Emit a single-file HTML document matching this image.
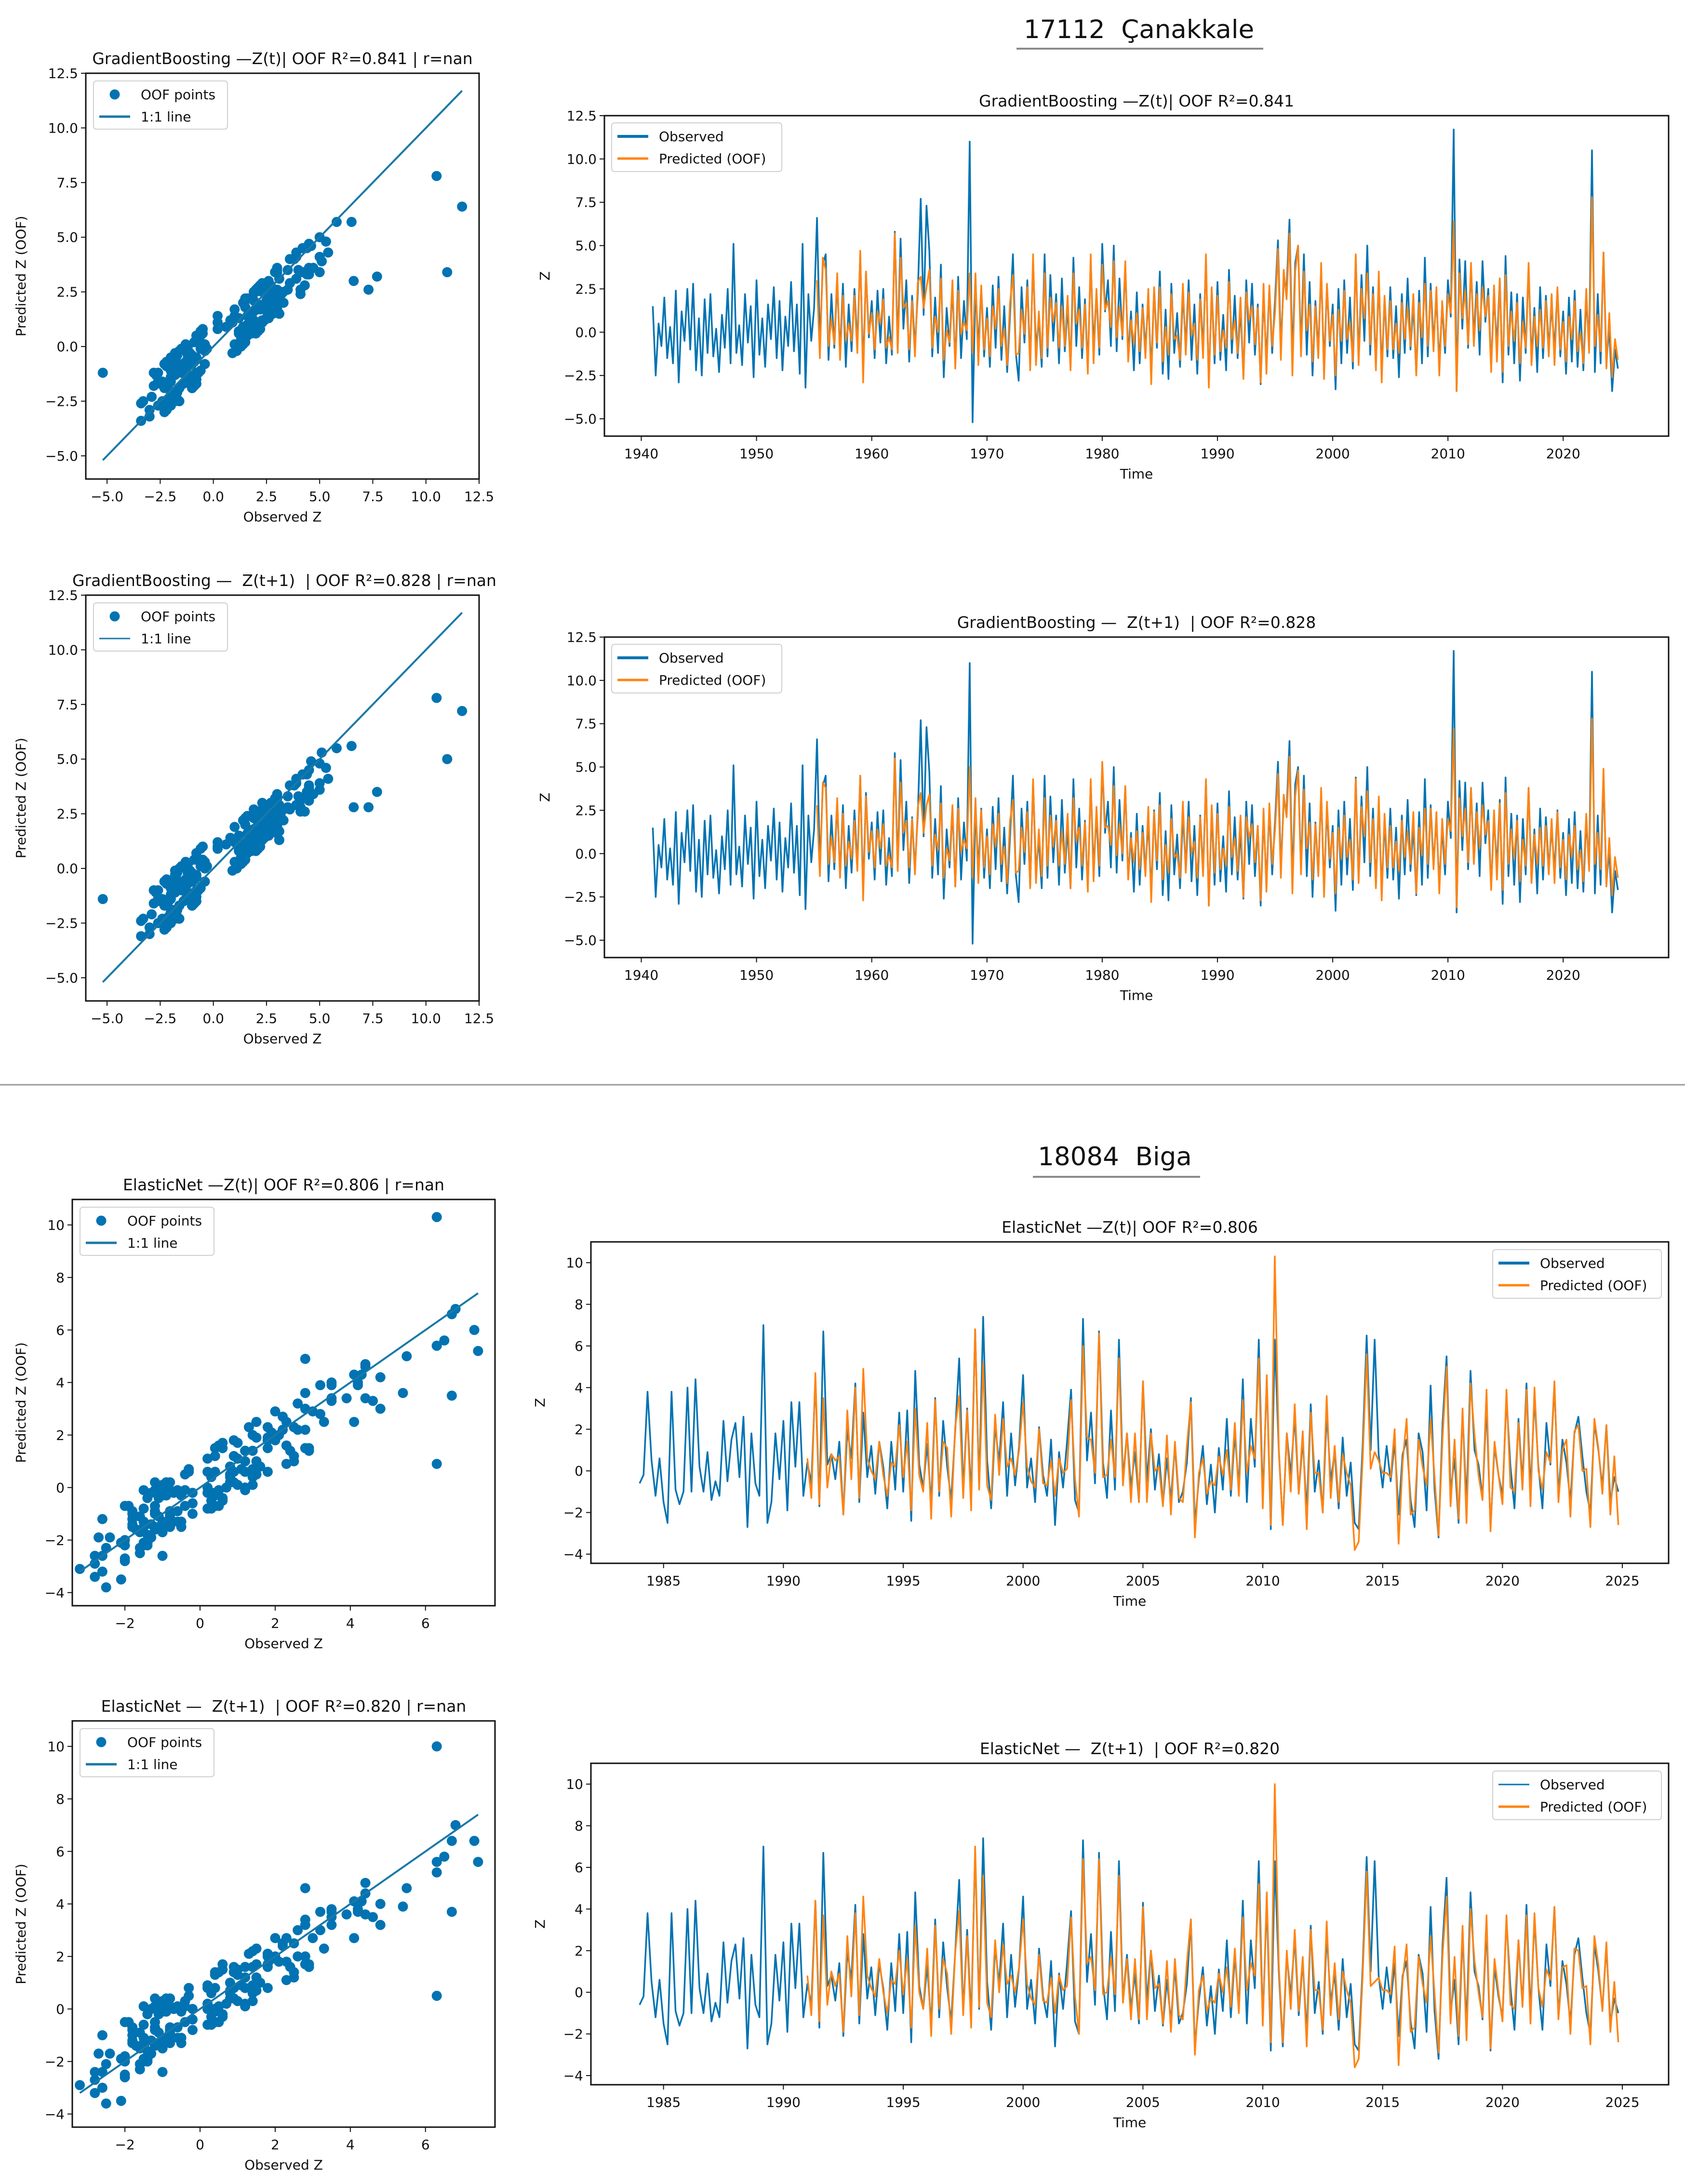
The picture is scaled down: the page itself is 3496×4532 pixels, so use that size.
<!DOCTYPE html>
<html><head><meta charset="utf-8"><title>OOF model diagnostics</title>
<style>
html,body{margin:0;padding:0;background:#fff;}
svg{display:block;}
text{font-family:"DejaVu Sans","Liberation Sans",sans-serif;fill:#111;white-space:pre;}
</style></head>
<body>
<svg id="fig" xmlns="http://www.w3.org/2000/svg" width="3496" height="4532" viewBox="0 0 3496 4532">
<rect x="0" y="0" width="3496" height="4532" fill="#fff"/>
<text x="2363" y="79" font-size="53" text-anchor="middle">17112  Çanakkale</text>
<line x1="2109" y1="101" x2="2621" y2="101" stroke="#8a8a8a" stroke-width="4"/>
<line x1="0" y1="2251" x2="3496" y2="2251" stroke="#9a9a9a" stroke-width="3"/>
<text x="2313" y="2418" font-size="53" text-anchor="middle">18084  Biga</text>
<line x1="2143" y1="2442" x2="2490" y2="2442" stroke="#8a8a8a" stroke-width="4"/>
</svg>
<script>
// ---------------- DATA ----------------
const canStart = 1941.0;
const canPerYear = 4;
const canPredOffset = 57; // first OOF prediction index (1955 Q2)
const canObserved = [
1.5,-2.5,0.5,-0.8, 2.0,-1.5,0.3,-1.8, 2.4,-2.9,1.2,-0.5, 2.5,-1.0,2.8,-2.2, 0.8,-2.5,1.9,-1.2,
2.2,-1.4,0.2,-2.3, 1.0,-0.9,2.5,-1.8, 5.1,-1.2,0.4,-1.9, 2.2,-0.6,1.5,-2.6, 3.0,-1.3,0.8,-2.0,
1.6,-0.4,2.6,-1.5, 1.8,-2.2,0.9,-0.8, 2.9,-1.1,1.6,-2.4, 5.1,-3.2,2.2,-0.5, 1.4,6.6,-0.8,3.9,
4.5,-1.6,2.2,-0.9, 3.0,-1.3,2.8,-2.0, 1.6,-1.1,2.5,-0.7, 4.5,-2.2,3.5,-0.3, 1.8,-1.5,2.4,-0.6,
2.5,-1.8,0.9,-1.3, 5.8,-0.8,5.4,0.2, 3.0,-1.7,2.1,-0.9, 2.3,7.7,1.0,7.3, 4.7,-1.4,2.0,-1.2,
3.9,-2.6,1.4,-0.8, 2.6,-1.9,3.2,-1.5, 1.8,-0.4,11.0,-5.2, 2.9,-1.0,2.6,-1.4, 1.4,-2.0,2.7,-0.9,
3.2,-1.6,1.5,-2.3, 1.0,4.5,-1.2,-2.8, 2.6,-0.6,3.0,-1.9, 4.2,-1.0,0.8,-2.0, 4.5,-1.4,3.3,-0.5,
2.2,-1.8,3.1,-1.1, 1.5,-2.0,4.3,-0.8, 2.6,-1.5,1.9,-2.1, 4.2,-0.9,2.3,-1.3, 5.1,1.2,3.0,-0.8,
5.0,-1.1,3.1,-0.4, 3.9,-1.4,1.2,-2.2, 2.3,-1.8,1.6,-1.0, 1.9,-2.3,2.5,-0.9, 3.5,-2.4,1.3,-2.7,
2.8,-1.2,1.1,-2.0, 2.3,-0.9,3.0,-1.6, 1.6,-2.4,2.2,-1.0, 4.2,-3.0,2.5,-1.8, 2.9,-1.6,1.0,-2.2,
3.6,-1.2,2.1,-1.5, 1.4,-2.6,3.0,-0.6, 2.8,-1.3,1.6,-3.0, 2.2,-1.7,2.6,-1.2, 1.9,5.3,-0.9,3.0,
2.5,6.5,-1.6,4.0, 5.0,-1.0,4.5,-1.3, 2.9,-2.5,1.8,-1.1, 3.6,-2.0,2.7,-0.8, 1.6,-3.3,2.5,-1.8,
3.0,-1.2,2.0,-2.1, 4.4,-1.6,3.3,-0.5, 5.0,-1.3,2.6,-1.9, 3.0,-2.2,1.9,-1.4, 2.6,-1.5,1.5,-2.6,
2.2,-1.2,3.1,-1.0, 1.6,-2.4,2.4,-1.8, 4.3,-1.4,2.8,-0.6, 2.0,-1.8,1.5,-1.2, 3.0,0.9,11.7,-3.4,
4.2,0.2,4.1,-0.9, 3.8,-0.4,2.9,-1.3, 4.1,0.6,2.5,-2.0, 2.1,-0.8,3.1,-2.9, 4.4,-1.3,2.3,-1.8,
2.2,-2.8,2.0,-1.2, 3.8,-1.6,1.4,-2.3, 2.6,-1.5,2.1,-0.9, 1.5,-1.0,2.5,-1.4, 1.2,-2.4,2.0,-1.7,
2.4,-2.0,1.3,-2.2, 2.0,-0.8,10.5,-2.3, 2.2,-1.8,4.6,-1.7, 0.2,-3.4,-1.0,-2.1];
const canPredT = [
3.0,-1.5,4.3, 3.6,-0.8,0.8,-0.7, 3.4,-1.6,2.1,-0.5, 0.5,-0.5,2.1,-1.2, 4.7,-2.9,3.5,-0.1, 1.1,-1.0,1.2,0.5,
1.9,-0.9,-0.3,-1.0, 5.7,-1.2,4.3,1.4, 1.7,-1.0,1.8,-1.4, 2.9,3.2,1.4,2.6, 3.6,-0.9,0.9,0.0,
3.1,-1.6,0.1,-0.6, 3.0,-2.1,2.4,-0.1, 0.6,0.1,3.4,-1.2, 3.4,-1.9,2.7,-1.0, 0.8,-1.4,1.5,0.2,
2.5,-0.8,0.2,-1.9, 1.7,3.3,-1.3,-1.2, 1.3,-0.1,2.6,-2.2, 4.5,-1.9,1.2,-1.5, 3.4,-0.9,2.0,0.6,
1.7,-0.9,1.5,-0.8, 2.1,-2.2,3.4,0.5, 1.3,-0.9,1.6,-2.4, 4.5,-1.8,2.5,-0.9, 3.9,1.3,1.8,0.3,
4.1,-0.3,1.5,-0.2, 4.1,-1.7,0.7,-0.7, 1.1,-1.1,1.4,-1.5, 2.5,-3.0,2.6,-0.6, 2.6,-1.7,0.3,-1.3,
2.2,-0.4,-0.2,-1.6, 2.8,-1.3,2.3,-0.2, 0.5,-1.6,1.9,-1.5, 4.5,-3.2,2.6,-1.3, 2.1,-1.1,0.1,-0.9,
2.9,-0.4,0.7,-1.2, 2.0,-2.7,2.3,0.7, 1.5,-0.7,1.4,-2.9, 2.8,-2.4,2.7,-0.8, 1.2,4.8,-1.6,3.6,
1.9,5.7,-2.5,3.5, 5.0,-1.4,3.5,0.1, 1.6,-1.7,1.5,-1.5, 4.0,-2.7,2.8,-0.5, 1.0,-2.5,1.3,-0.5,
2.4,-0.4,0.6,-1.7, 4.5,-1.9,2.5,0.8, 3.4,-0.7,2.2,-2.2, 3.5,-2.9,2.1,-1.0, 1.8,-1.0,0.5,-1.2,
1.7,-0.4,1.5,-0.8, 2.2,-2.5,1.7,-0.3, 2.8,-0.8,2.4,-1.1, 2.6,-2.5,1.8,-0.8, 2.2,1.1,6.4,-3.4,
3.4,0.8,2.4,-0.7, 4.0,-0.8,2.2,0.1, 2.6,0.9,2.1,-2.3, 2.7,-1.7,3.1,-2.3, 3.3,-0.8,1.2,-0.5,
1.7,-1.8,0.6,-0.9, 4.0,-1.9,0.9,-0.8, 1.3,-0.9,1.8,-1.4, 2.2,-1.9,2.6,-1.0, 0.6,-1.7,0.9,-0.4,
1.8,-1.1,0.0,-1.8, 2.5,-1.2,7.8,-0.8, 1.0,-1.1,4.6,-2.1, 1.1,-2.6,-0.4,-1.6];
const canPredT1 = [
2.8,-1.3,4.1, 3.8,-0.6,1.0,-0.5, 3.2,-1.4,2.3,-0.7, 0.7,-0.3,1.9,-1.0, 4.5,-2.7,3.3,0.1, 1.3,-0.8,1.4,0.3,
1.7,-0.7,-0.1,-0.8, 5.5,-1.0,4.1,1.2, 1.9,-0.8,2.0,-1.2, 2.7,3.5,1.2,2.8, 3.4,-0.7,1.1,0.2,
2.9,-1.4,0.3,-0.4, 2.8,-1.9,2.6,0.1, 0.8,0.3,5.0,-1.4, 3.2,-1.7,2.5,-0.8, 1.0,-1.2,1.7,0.4,
2.3,-0.6,0.4,-1.7, 1.9,3.1,-1.1,-1.0, 1.5,0.1,2.4,-2.0, 4.3,-1.7,1.4,-1.3, 3.2,-0.7,2.2,0.4,
1.9,-0.7,1.3,-0.6, 2.3,-2.0,3.2,0.7, 1.5,-0.7,1.8,-2.2, 4.3,-1.6,2.7,-0.7, 5.3,1.5,1.6,0.5,
3.9,-0.1,1.7,0.0, 3.9,-1.5,0.9,-0.5, 1.3,-0.9,1.2,-1.3, 2.7,-2.8,2.4,-0.4, 2.8,-1.5,0.5,-1.1,
2.0,-0.2,0.0,-1.4, 3.0,-1.1,2.1,0.0, 0.7,-1.4,2.1,-1.3, 4.3,-3.0,2.8,-1.1, 2.3,-0.9,0.3,-0.7,
2.7,-0.2,0.9,-1.0, 2.2,-2.5,2.1,0.9, 1.7,-0.5,1.6,-2.7, 2.6,-2.2,2.9,-0.6, 1.4,4.6,-1.4,3.4,
2.1,5.6,-2.3,3.3, 4.8,-1.2,3.7,0.3, 1.8,-1.5,1.7,-1.3, 3.8,-2.5,3.0,-0.3, 1.2,-2.3,1.5,-0.3,
2.2,-0.2,0.8,-1.5, 4.3,-1.7,2.7,1.0, 3.6,-0.5,2.0,-2.0, 3.3,-2.7,2.3,-0.8, 1.6,-0.8,0.7,-1.0,
1.9,-0.2,1.3,-0.6, 2.4,-2.3,1.5,-0.1, 2.6,-0.6,2.6,-0.9, 2.4,-2.3,2.0,-0.6, 2.0,1.3,7.2,-3.1,
3.2,1.0,2.6,-0.5, 3.8,-0.6,2.4,0.3, 2.8,1.1,1.9,-2.1, 2.5,-1.5,2.9,-2.1, 3.5,-0.6,1.4,-0.3,
1.9,-1.6,0.8,-0.7, 3.8,-1.7,1.1,-0.6, 1.5,-0.7,1.6,-1.2, 2.0,-1.7,2.4,-0.8, 0.8,-1.5,1.1,-0.2,
1.6,-0.9,0.2,-1.6, 2.3,-1.0,7.8,-0.6, 1.2,-0.9,4.9,-1.9, 0.9,-2.4,-0.2,-1.4];

const bigaStart = 1984.0;
const bigaPerYear = 6;
const bigaPredOffset = 42; // first OOF prediction index (1991.0)
const bigaObserved = [
-0.6,-0.2,3.8,0.5,-1.2,0.6, -1.5,-2.5,3.8,-0.9,-1.6,-1.0, 4.0,-1.0,4.4,0.2,-1.0,0.9, -1.4,-0.5,-1.2,2.4,-0.5,1.5,
2.3,-0.3,2.6,-2.7,1.8,-0.6, -1.2,7.0,-2.5,-1.5,1.8,-0.4, 2.4,-1.9,3.3,0.2,3.3,-1.2, 0.4,-0.6,4.4,-1.7,6.7,0.3,
0.8,-0.4,1.4,-2.1,2.0,0.6, 4.2,-1.5,2.8,-0.3,1.2,-1.1, 1.4,0.2,-1.8,1.4,-0.9,2.8, -1.0,2.9,-2.4,4.8,0.3,-0.8,
1.3,-1.6,3.5,-1.2,2.4,0.2, -1.4,1.9,5.4,-1.0,3.0,-1.3, 6.8,-0.8,7.4,0.5,-1.8,2.2, 0.4,3.3,-1.2,1.8,-0.7,1.2,
4.6,-0.8,0.6,-1.5,2.1,-0.2, -1.2,1.5,-2.6,0.9,-0.8,1.4, 3.9,-1.4,-2.0,7.3,0.5,2.8, -0.6,6.7,0.4,-1.3,2.9,-0.9,
6.3,-0.4,1.8,-0.8,0.9,-1.5, 4.3,-0.5,2.0,-0.9,0.8,-1.6, 0.6,-1.4,1.2,-1.5,-1.0,0.4, 3.5,-2.6,-0.4,1.2,-1.6,0.3,
-2.0,1.1,-0.9,2.5,-1.2,1.8, -0.8,4.4,-1.5,2.5,0.2,6.3, -1.4,4.4,-2.8,6.3,1.0,-2.6, 1.8,-0.2,2.6,-1.1,1.5,-2.0,
3.2,-1.0,0.5,-2.0,2.8,-0.5, 0.9,-1.8,1.6,-1.2,0.4,-2.5, -2.8,1.2,6.5,1.0,6.3,0.8, -0.8,1.2,-0.5,1.4,-2.1,0.8,
1.5,-1.4,-2.7,1.8,0.9,-1.9, 4.1,-0.9,-3.2,2.3,5.5,-1.0, 0.6,-2.5,2.8,-1.6,4.8,1.0, 0.3,-1.3,3.2,-2.8,1.2,-0.2,
-1.2,3.5,0.2,-1.8,2.5,-0.6, 4.2,-1.0,3.5,0.2,-1.8,2.3, 0.3,4.1,-1.2,1.5,0.4,-1.5, 1.8,2.6,0.7,-1.0,-2.0,2.3,
1.0,-0.8,2.2,-1.5,-0.3,-1.0];
const bigaPredT = [
0.6,-1.3,4.7,-1.6,3.5,-0.8, 0.8,0.5,0.7,-2.1,2.9,-0.4, 4.0,-1.3,4.9,0.6,0.0,-0.4, 1.4,-0.2,-1.2,0.4,0.2,2.2,
-0.3,1.4,-1.9,3.0,-0.2,-1.0, 2.3,-2.3,3.4,-1.0,1.4,1.1, -2.2,2.1,3.6,-1.3,2.9,-1.9, 6.8,-0.9,5.2,-0.7,-1.4,2.7,
-0.2,2.5,0.2,0.6,-0.2,1.0, 3.3,0.2,-0.5,-0.8,2.0,-0.6, -0.7,0.5,-1.2,0.6,-0.1,0.1, 3.4,-0.4,-2.2,6.0,1.6,1.5,
-0.1,6.6,-0.3,-0.2,1.5,-0.3, 5.4,-0.7,1.8,-1.5,1.8,-1.5, 4.3,-1.5,1.8,0.0,0.2,-1.7, 1.7,-2.1,1.4,-1.3,-1.5,1.2,
3.3,-3.2,-0.1,0.6,-1.1,-0.5, -0.7,0.7,-0.2,1.0,-0.9,2.3, -1.2,3.4,-0.1,1.2,0.6,5.4, -1.8,4.6,-2.6,10.3,1.1,-2.6,
1.8,-1.0,3.2,-1.1,1.9,-2.8, 2.8,-0.1,-0.1,-2.0,3.6,-1.3, 1.2,-1.5,0.8,-0.1,-0.7,-3.8, -3.4,0.6,5.6,0.1,0.9,0.5,
-0.1,-0.1,-0.3,2.0,-3.5,0.4, 2.5,-2.1,-1.9,1.5,0.2,-0.7, 2.5,-0.3,-3.1,1.6,5.0,-1.7, 1.5,-2.3,3.0,-2.5,4.2,1.7,
-0.2,-1.4,3.9,-2.9,1.4,-0.2, -1.6,3.9,-0.8,-1.0,2.3,-0.9, 3.9,-1.7,4.0,0.0,-0.9,0.9, 0.4,4.3,-1.5,1.0,1.5,-2.2,
1.9,2.2,0.0,0.1,-2.7,2.5, 1.1,-1.1,2.2,-2.1,0.7,-2.6];
const bigaPredT1 = [
0.8,-1.1,4.4,-1.4,3.7,-0.6, 1.0,0.3,0.9,-1.9,2.7,-0.2, 3.8,-1.1,4.6,0.8,0.2,-0.2, 1.6,0.0,-1.0,0.6,0.4,2.0,
-0.1,1.6,-1.7,3.2,0.0,-0.8, 2.1,-2.1,3.2,-0.8,1.6,0.9, -2.0,1.9,3.9,-1.1,2.7,-1.7, 7.0,-0.7,5.6,-0.5,-1.2,2.5,
0.0,2.3,0.4,0.8,0.0,1.2, 3.5,0.4,-0.3,-0.6,1.8,-0.4, -0.5,0.7,-1.0,0.8,0.1,0.3, 3.6,-0.2,-2.0,6.4,1.4,1.7,
0.1,6.4,-0.1,0.0,1.7,-0.1, 5.6,-0.5,1.6,-1.3,1.6,-1.3, 4.1,-1.3,2.0,0.2,0.4,-1.5, 1.5,-1.9,1.6,-1.1,-1.3,1.4,
3.5,-3.0,0.1,0.8,-0.9,-0.3, -0.5,0.9,0.0,1.2,-0.7,2.1, -1.0,3.6,0.1,1.4,0.8,5.2, -1.6,4.8,-2.4,10.0,1.3,-2.4,
2.0,-0.8,3.0,-0.9,1.7,-2.6, 3.0,0.1,0.1,-1.8,3.4,-1.1, 1.4,-1.3,1.0,0.1,-0.5,-3.6, -3.2,0.8,5.8,0.3,0.5,0.7,
0.1,0.1,-0.1,2.2,-3.5,0.6, 2.3,-1.9,-1.7,1.7,0.4,-0.5, 2.7,-0.1,-2.9,1.8,4.6,-1.5, 1.7,-2.1,3.2,-2.3,4.0,1.5,
0.0,-1.2,3.7,-2.7,1.6,0.0, -1.4,3.7,-0.6,-0.8,2.5,-0.7, 3.7,-1.5,3.8,0.2,-0.7,1.1, 0.6,4.1,-1.3,1.2,1.3,-2.0,
2.1,2.0,0.2,0.3,-2.5,2.7, 1.3,-0.9,2.4,-1.9,0.5,-2.4];

// tick arrays
const canScatterTicks = [-5, -2.5, 0, 2.5, 5, 7.5, 10, 12.5];
const canTsYTicks = [-5, -2.5, 0, 2.5, 5, 7.5, 10, 12.5];
const canYearTicks = [1940, 1950, 1960, 1970, 1980, 1990, 2000, 2010, 2020];
const bigaScatterXTicks = [-2, 0, 2, 4, 6];
const bigaScatterYTicks = [-4, -2, 0, 2, 4, 6, 8, 10];
const bigaTsYTicks = [-4, -2, 0, 2, 4, 6, 8, 10];
const bigaYearTicks = [1985, 1990, 1995, 2000, 2005, 2010, 2015, 2020, 2025];

// ---------------- RENDERING ----------------
const NS = 'http://www.w3.org/2000/svg';
const svg = document.getElementById('fig');
const BLUE = '#0173b2', ORANGE = '#ff8413';
function mk(tag, attrs, parent) {
  const e = document.createElementNS(NS, tag);
  for (const k in attrs) e.setAttribute(k, attrs[k]);
  (parent || svg).appendChild(e);
  return e;
}
function fmt(v, dec) { const s = Math.abs(v).toFixed(dec); return (v < 0 ? '\u2212' : '') + s; }

function drawAxes(p, g) {
  const sx = v => p.x0 + (v - p.xlim[0]) / (p.xlim[1] - p.xlim[0]) * (p.x1 - p.x0);
  const sy = v => p.y1 - (v - p.ylim[0]) / (p.ylim[1] - p.ylim[0]) * (p.y1 - p.y0);
  p.xticks.forEach(v => {
    const X = sx(v);
    const t = mk('line', {x1: X, y1: p.y1, x2: X, y2: p.y1 + 10, stroke: '#111', 'stroke-width': 2}, g);
    
    
    const l = mk('text', {x: X, y: p.y1 + 46, 'font-size': 28, 'text-anchor': 'middle'}, g);
    l.textContent = fmt(v, p.xdec);
    
    
  });
  p.yticks.forEach(v => {
    const Y = sy(v);
    const t = mk('line', {x1: p.x0 - 10, y1: Y, x2: p.x0, y2: Y, stroke: '#111', 'stroke-width': 2}, g);
    
    
    const l = mk('text', {x: p.x0 - 16, y: Y + 10, 'font-size': 28, 'text-anchor': 'end'}, g);
    l.textContent = fmt(v, p.ydec);
    
    
  });
  const xl = mk('text', {x: (p.x0 + p.x1) / 2, y: p.y1 + 88, 'font-size': 28, 'text-anchor': 'middle'}, g);
  xl.textContent = p.xlabel;
  
  
  const yl = mk('text', {x: 0, y: 0, 'font-size': 28, 'text-anchor': 'middle', transform: 'translate(' + p.ylx + ',' + ((p.y0 + p.y1) / 2) + ') rotate(-90)'}, g);
  yl.textContent = p.ylabel;
  
  
  const tt = mk('text', {x: p.tx || (p.x0 + p.x1) / 2, y: p.ty, 'font-size': 33, 'text-anchor': 'middle'}, g);
  tt.textContent = p.title;
  
  
  return {sx, sy};
}
function frame(p, g) {
  const f = mk('rect', {x: p.x0, y: p.y0, width: p.x1 - p.x0, height: p.y1 - p.y0, fill: 'none', stroke: '#111', 'stroke-width': 3}, g);
  
  
}
function legend(g, lx, ly, w, h, entries) {
  const lg = mk('g', {}, g);
  
  
  const bx = mk('rect', {x: lx, y: ly, width: w, height: h, rx: 6, fill: '#fff', 'fill-opacity': 0.85, stroke: '#d0d0d0', 'stroke-width': 2}, lg);
  
  
  entries.forEach((en, i) => {
    const cy = ly + 28 + i * 46;
    let m;
    if (en.kind === 'dot') m = mk('circle', {cx: lx + 44, cy: cy, r: 10.5, fill: en.color}, lg);
    else m = mk('line', {x1: lx + 12, y1: cy, x2: lx + 76, y2: cy, stroke: en.color, 'stroke-width': en.w || 5}, lg);
    
    
    const t = mk('text', {x: lx + 98, y: cy + 10, 'font-size': 28}, lg);
    t.textContent = en.label;
    
    
  });
}

function scatterPanel(p, obs, pred, offset) {
  const g = mk('g', {});
  
  
  if (p.clipW) {
    const cp = mk('clipPath', {id: p.name + '-clip'}, g);
    mk('rect', {x: 0, y: p.ty - 60, width: p.clipW, height: 2000}, cp);
    g.setAttribute('clip-path', 'url(#' + p.name + '-clip)');
  }
  const {sx, sy} = drawAxes(p, g);
  const pts = mk('g', {}, g);
  
  
  let mn = Infinity, mx = -Infinity;
  for (let i = 0; i < pred.length; i++) {
    const o = obs[offset + i];
    if (o === undefined) continue;
    mn = Math.min(mn, o); mx = Math.max(mx, o);
    const c = mk('circle', {cx: sx(o).toFixed(1), cy: sy(pred[i]).toFixed(1), r: 10.5, fill: BLUE}, pts);
    
    
  }
  const ln = mk('line', {x1: sx(mn), y1: sy(mn), x2: sx(mx), y2: sy(mx), stroke: '#1a78a8', 'stroke-width': 4}, g);
  
  
  frame(p, g);
  legend(g, p.x0 + 16, p.y0 + 16, 278, 100, [{kind: 'dot', color: BLUE, label: 'OOF points'}, {kind: 'line', color: '#1a78a8', label: '1:1 line', w: p.legLineW || 5}]);
}

function tsPanel(p, obs, pred, start, perYear, offset) {
  const g = mk('g', {});
  
  
  const {sx, sy} = drawAxes(p, g);
  let d = '';
  obs.forEach((v, i) => { d += (i ? 'L' : 'M') + sx(start + i / perYear).toFixed(1) + ',' + sy(v).toFixed(1); });
  const lo = mk('path', {d: d, fill: 'none', stroke: BLUE, 'stroke-width': 3.5, 'stroke-linejoin': 'round'}, g);
  
  
  let d2 = '';
  pred.forEach((v, i) => { d2 += (i ? 'L' : 'M') + sx(start + (offset + i) / perYear).toFixed(1) + ',' + sy(v).toFixed(1); });
  const lp = mk('path', {d: d2, fill: 'none', stroke: ORANGE, 'stroke-width': 3.5, 'stroke-linejoin': 'round'}, g);
  
  
  frame(p, g);
  legend(g, p.legX, p.legY, p.legW, 101, [{kind: 'line', color: BLUE, label: 'Observed', w: p.obsLegW || 6}, {kind: 'line', color: ORANGE, label: 'Predicted (OOF)', w: 5}]);
}

// Çanakkale scatter panels
const canScatterBase = {xlim: [-6.0, 12.5], ylim: [-6.06, 12.5], xticks: canScatterTicks, yticks: canScatterTicks, xdec: 1, ydec: 1, xlabel: 'Observed Z', ylabel: 'Predicted Z (OOF)', ylx: 53};
scatterPanel(Object.assign({}, canScatterBase, {name: 'scatter-canakkale-zt', x0: 178, x1: 994, y0: 152, y1: 994, ty: 133, title: 'GradientBoosting \u2014Z(t)| OOF R\u00b2=0.841 | r=nan'}), canObserved, canPredT, canPredOffset);
scatterPanel(Object.assign({}, canScatterBase, {name: 'scatter-canakkale-zt1', x0: 178, x1: 994, y0: 1235, y1: 2077, ty: 1216, tx: 590, clipW: 1058, legLineW: 3, title: 'GradientBoosting \u2014  Z(t+1)  | OOF R\u00b2=0.828 | r=nan'}), canObserved, canPredT1, canPredOffset);
// Çanakkale time series
const canTsBase = {xlim: [1936.8, 2029.15], ylim: [-6.0, 12.5], xticks: canYearTicks, yticks: canTsYTicks, xdec: 0, ydec: 1, xlabel: 'Time', ylabel: 'Z', x0: 1254, x1: 3462, ylx: 1140, legX: 1269, legW: 353};
tsPanel(Object.assign({}, canTsBase, {name: 'timeseries-canakkale-zt', y0: 240, y1: 905, ty: 221, legY: 255, title: 'GradientBoosting \u2014Z(t)| OOF R\u00b2=0.841'}), canObserved, canPredT, canStart, canPerYear, canPredOffset);
tsPanel(Object.assign({}, canTsBase, {name: 'timeseries-canakkale-zt1', y0: 1322, y1: 1987, ty: 1303, legY: 1337, title: 'GradientBoosting \u2014  Z(t+1)  | OOF R\u00b2=0.828'}), canObserved, canPredT1, canStart, canPerYear, canPredOffset);

// Biga scatter panels
const bigaScatterBase = {xlim: [-3.40, 7.85], ylim: [-4.5, 10.97], xticks: bigaScatterXTicks, yticks: bigaScatterYTicks, xdec: 0, ydec: 0, xlabel: 'Observed Z', ylabel: 'Predicted Z (OOF)', ylx: 53, x0: 150, x1: 1027};
scatterPanel(Object.assign({}, bigaScatterBase, {name: 'scatter-biga-zt', y0: 2489, y1: 3332, ty: 2470, title: 'ElasticNet \u2014Z(t)| OOF R\u00b2=0.806 | r=nan'}), bigaObserved, bigaPredT, bigaPredOffset);
scatterPanel(Object.assign({}, bigaScatterBase, {name: 'scatter-biga-zt1', y0: 3571, y1: 4414, ty: 3552, title: 'ElasticNet \u2014  Z(t+1)  | OOF R\u00b2=0.820 | r=nan'}), bigaObserved, bigaPredT1, bigaPredOffset);
// Biga time series
const bigaTsBase = {xlim: [1981.97, 2026.93], ylim: [-4.44, 11.0], xticks: bigaYearTicks, yticks: bigaTsYTicks, xdec: 0, ydec: 0, xlabel: 'Time', ylabel: 'Z', x0: 1226, x1: 3462, ylx: 1130, legX: 3097, legW: 350};
tsPanel(Object.assign({}, bigaTsBase, {name: 'timeseries-biga-zt', y0: 2577, y1: 3244, ty: 2558, legY: 2593, title: 'ElasticNet \u2014Z(t)| OOF R\u00b2=0.806'}), bigaObserved, bigaPredT, bigaStart, bigaPerYear, bigaPredOffset);
tsPanel(Object.assign({}, bigaTsBase, {name: 'timeseries-biga-zt1', y0: 3659, y1: 4326, ty: 3640, legY: 3675, obsLegW: 3, title: 'ElasticNet \u2014  Z(t+1)  | OOF R\u00b2=0.820'}), bigaObserved, bigaPredT1, bigaStart, bigaPerYear, bigaPredOffset);
</script>
</body></html>
